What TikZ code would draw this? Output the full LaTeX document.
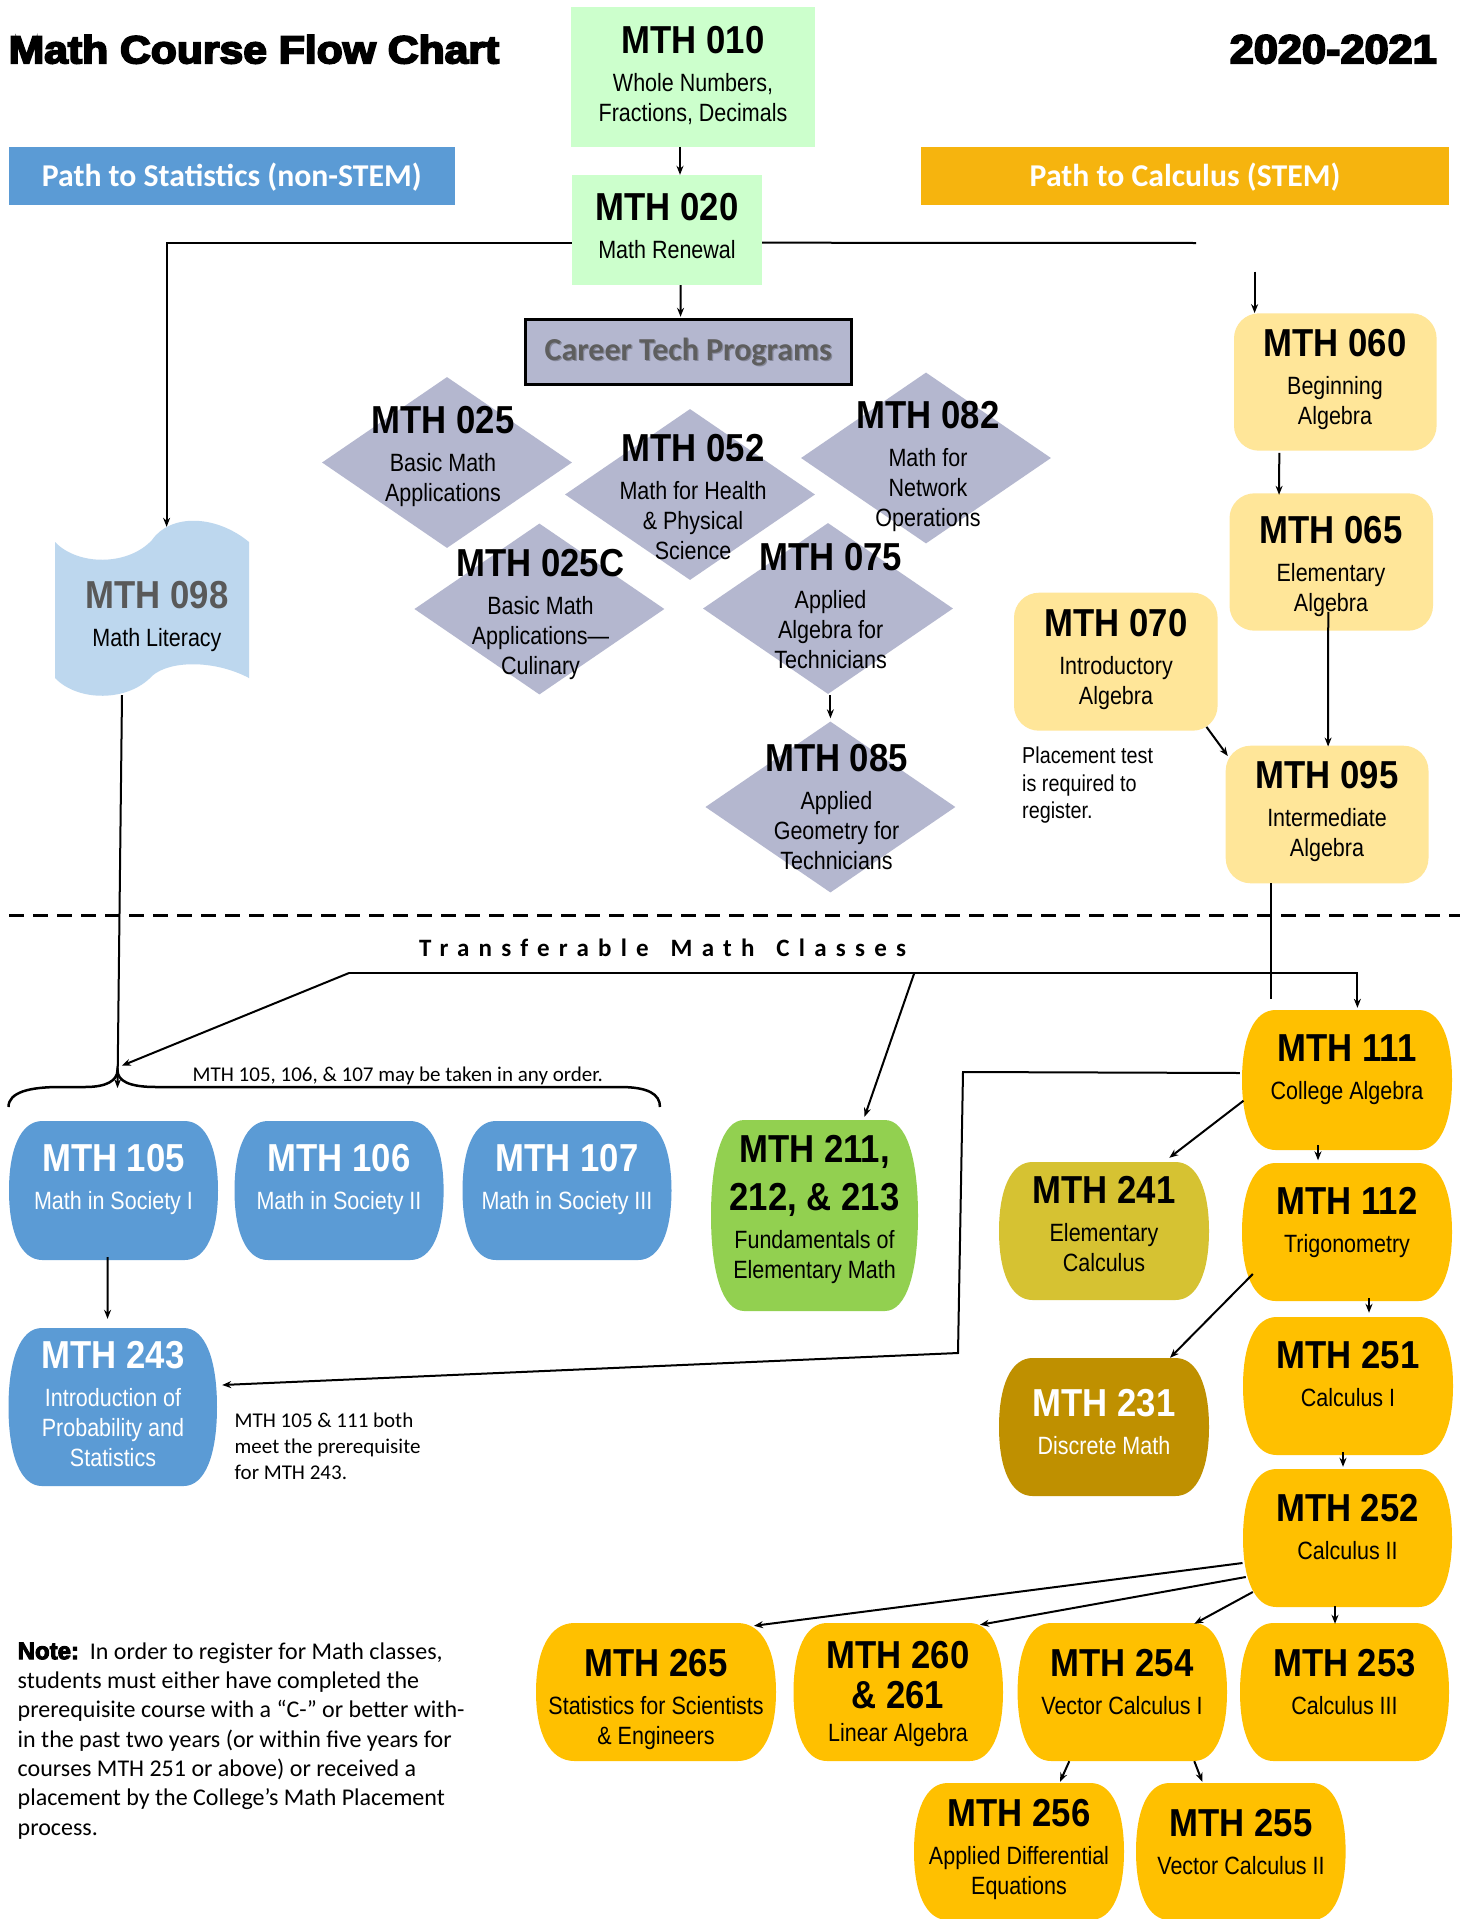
\documentclass[tikz,border=0pt]{standalone}
\usepackage{fontspec}
\usepackage{graphicx}
\usetikzlibrary{arrows.meta,calc,shapes.geometric}
\newfontface\tfont{Liberation Sans Bold}[FakeStretch=0.89]
\newfontface\sfnar{Liberation Sans}[FakeStretch=0.86]
\newfontface\heavy{Liberation Sans Bold}[FakeBold=4.5]
\newfontface\notebf{Liberation Sans Bold}[FakeBold=4]
\newfontfamily\calfam{Carlito}
\newfontfamily\calsp{Carlito}[LetterSpace=37]
\definecolor{lgreen}{HTML}{CCFFCC}
\definecolor{pblue}{HTML}{5B9BD5}
\definecolor{porange}{HTML}{F6B40E}
\definecolor{lyellow}{HTML}{FFE699}
\definecolor{diacol}{HTML}{B4B7CF}
\definecolor{lblue}{HTML}{BDD7EE}
\definecolor{gold}{HTML}{FFC000}
\definecolor{olive}{HTML}{D6C232}
\definecolor{dgold}{HTML}{BF9000}
\definecolor{fgreen}{HTML}{92D050}
\definecolor{tgray}{HTML}{595959}
\definecolor{ctgray}{HTML}{5E5E5E}
\newcommand\tsz{\tfont\fontsize{39}{30}\selectfont}
\newcommand\ctext[6][black]{\node[ctxt,text=#1] (#2) at (#3,#4) {\rule{0pt}{28pt}{\tsz #5}\\[8pt]#6};}
\newcommand\barrel[6]{%
  \pgfmathsetmacro\bA{0.16*(#4-#2)}%
  \pgfmathsetmacro\bH{#5-#3}%
  \pgfmathsetmacro\bW{#4-#2}%
  \fill[#6] ({#2+\bA},#3) -- ({#4-\bA},#3)
    .. controls ({#4-0.35*\bA},#3) and (#4,{#3+0.2*\bH}) .. (#4,{(#3+#5)/2})
    .. controls (#4,{#5-0.2*\bH}) and ({#4-0.35*\bA},#5) .. ({#4-\bA},#5)
    -- ({#2+\bA},#5)
    .. controls ({#2+0.35*\bA},#5) and (#2,{#5-0.2*\bH}) .. (#2,{(#3+#5)/2})
    .. controls (#2,{#3+0.2*\bH}) and ({#2+0.35*\bA},#3) .. cycle;
  \node[inner sep=0pt, minimum width=\bW pt, minimum height=\bH pt] (#1) at ({(#2+#4)/2},{(#3+#5)/2}) {};}
\begin{document}
\begin{tikzpicture}[x=1pt,y=-1pt,
  rect/.style={rectangle, inner sep=0pt},
  rbox/.style={rectangle, rounded corners=25pt, fill=lyellow, inner sep=0pt},
  dia/.style={diamond, fill=diacol, minimum width=250pt, minimum height=171pt, inner sep=0pt},
  ctxt/.style={anchor=north, inner sep=0pt, align=center, font=\sfnar\fontsize{25}{30}\selectfont},
  pathtxt/.style={anchor=base, inner sep=0pt, text=white, font=\calfam\bfseries\fontsize{31.75}{36}\selectfont},
  arr/.style={-{Stealth[length=9pt,width=7pt]}, line width=2pt},
  ln/.style={line width=2pt}]
\lineskiplimit=-100pt
\fill[white] (0,0) rectangle (1463,1919);
\useasboundingbox (0,0) rectangle (1463,1919);

% header
\node[anchor=base west,inner sep=0pt] (title) at (8.5,63.3) {\resizebox{490.5pt}{28.3pt}{\heavy Math Course Flow Chart}};
\node[anchor=base east,inner sep=0pt] (year) at (1437,63.3) {\resizebox{207pt}{28.3pt}{\heavy 2020-2021}};
\node[rect, fill=pblue, minimum width=445.5pt, minimum height=57.7pt] (pstat) at (231.75,175.85) {};
\node[pathtxt] (pstatt) at (231.75,186) {Path to Statistics (non-STEM)};
\node[rect, fill=porange, minimum width=528pt, minimum height=57.7pt] (pcalc) at (1185,175.85) {};
\node[pathtxt] (pcalct) at (1185,186) {Path to Calculus (STEM)};

% top boxes
\node[rect, fill=lgreen, minimum width=244pt, minimum height=140pt] (m010) at (693,77) {};
\node[rect, fill=lgreen, minimum width=190pt, minimum height=110pt] (m020) at (667,230) {};
\node[rect, fill=diacol, draw=black, line width=3pt, minimum width=325.7pt, minimum height=64.4pt] (ct) at (688.35,352) {};
\node[anchor=base, inner sep=0pt, text=black, opacity=0.25, font=\calfam\bfseries\fontsize{32}{36}\selectfont] (ctsh) at (689.6,361.3) {Career Tech Programs};
\node[anchor=base, inner sep=0pt, text=ctgray, font=\calfam\bfseries\fontsize{32}{36}\selectfont] (ctt) at (688.35,360) {Career Tech Programs};

\node[rbox, minimum width=202.6pt, minimum height=137.4pt] (m060) at (1335.3,382) {};
\node[rbox, minimum width=203.5pt, minimum height=137.4pt] (m065) at (1331.25,562) {};
\node[rbox, minimum width=203.6pt, minimum height=138pt] (m070) at (1115.8,661.7) {};
\node[rbox, minimum width=202.8pt, minimum height=137.6pt] (m095) at (1327.1,814.5) {};

% diamonds
\node[dia] (d025) at (447,462.5) {};
\node[dia] (d052) at (690,494.5) {};
\node[dia] (d082) at (926,458) {};
\node[dia] (d025c) at (539.4,609) {};
\node[dia] (d075) at (828,608.5) {};
\node[dia] (d085) at (830.4,807) {};

% MTH 098 banner
\fill[lblue] (55,542) .. controls (78,566) and (128,566) .. (152,540)
  .. controls (170,514) and (215,514) .. (249,542) -- (249,678)
  .. controls (215,660) and (170,660) .. (152,676)
  .. controls (128,702) and (78,702) .. (55,678) -- cycle;
\node[rect, minimum width=194pt, minimum height=173pt] (m098) at (152,609.5) {};

% lower barrels
\barrel{m105}{9}{1121}{218}{1260}{pblue}
\barrel{m106}{234.5}{1121}{443.6}{1260}{pblue}
\barrel{m107}{462.5}{1121}{671.5}{1260}{pblue}
\barrel{m243}{8.5}{1328}{217}{1486}{pblue}
\barrel{m211}{711}{1120}{918}{1311}{fgreen}
\barrel{m111}{1242}{1010}{1452}{1150}{gold}
\barrel{m241}{999}{1162}{1209}{1300}{olive}
\barrel{m112}{1242}{1163}{1452}{1301}{gold}
\barrel{m231}{999}{1358}{1209}{1496}{dgold}
\barrel{m251}{1243}{1317}{1453}{1455}{gold}
\barrel{m252}{1243}{1469}{1452}{1607}{gold}
\barrel{m265}{536}{1623}{776}{1761}{gold}
\barrel{m260}{793.5}{1623}{1003}{1761}{gold}
\barrel{m254}{1017.6}{1623}{1227}{1761}{gold}
\barrel{m253}{1240}{1623}{1449}{1761}{gold}
\barrel{m256}{914}{1783}{1124}{1920}{gold}
\barrel{m255}{1136}{1783}{1345.6}{1920}{gold}

% dashed separator
\coordinate (dashL) at (9.4,915);
\coordinate (dashR) at (1460,915);
\draw[line width=3pt, dash pattern=on 15pt off 9pt] (dashL) -- (dashR);
\node[anchor=base west, inner sep=0pt, font=\calsp\bfseries\fontsize{25}{30}\selectfont] (transf) at (419,956) {Transferable\hspace{7pt} Math\hspace{7pt} Classes};

% brace
\draw[line width=2.5pt] (8.5,1107) .. controls (8.5,1092) and (30,1087) .. (60,1087) -- (85,1087)
  .. controls (106,1087) and (117.5,1081) .. (117.5,1070)
  .. controls (117.5,1081) and (129,1087) .. (156,1087) -- (620,1087)
  .. controls (648,1087) and (660,1094) .. (660,1107);

% connectors
\draw[arr] ($(m010.south)+(-13,0)$) -- ($(m020.north)+(13,0)$);
\draw[arr] ($(m020.west)+(0,12.7)$) -| ($(m098.north)+(14.6,4)$);
\coordinate (gapend) at (1196,243);
\draw[ln] ($(m020.east)+(0,12.7)$) -- (gapend);
\coordinate (gapstart) at (1254.6,271.7);
\draw[arr] (gapstart) -- ($(m060.north)+(-80.7,0)$);
\draw[arr] ($(m020.south)+(13.5,0)$) -- ($(ct.north)+(-7.8,-1.5)$);
\draw[arr] ($(m060.south)+(-56,2)$) -- ($(m065.north)+(-52.2,1.7)$);
\draw[arr] ($(m065.south)+(-3,-19)$) -- ($(m095.north)+(1,1)$);
\draw[arr] ($(m070.south)+(90.7,-4)$) -- ($(m095.west)+(2.3,-58.5)$);
\draw[arr] ($(d075.south)+(2.4,1)$) -- ($(d085.north)+(0,-3)$);

\coordinate (bt) at (117.5,1088);
\draw[arr] ($(m098.south)+(-30,-1)$) -- (bt);
\coordinate (tj) at (349,973);
\coordinate (tk) at (914.3,973);
\coordinate (bd) at (121.8,1065.7);
\draw[arr] (tj) -- (bd);
\draw[arr] (tj) -| ($(m111.north)+(10.4,-2)$);
\draw[arr] (tk) -- ($(m211.north)+(50,-3)$);
\coordinate (v95) at (1271,999);
\draw[ln] ($(m095.south)+(-56.1,-0.5)$) -- (v95);

\coordinate (c1) at (963,1072);
\coordinate (c2) at (958,1353);
\draw[arr] ($(m111.west)+(-2,-7)$) -- (c1) -- (c2) -- ($(m243.east)+(5,-22)$);
\draw[arr] ($(m105.south)+(-6,-3)$) -- ($(m243.north)+(-5.2,-9)$);

\draw[arr] ($(m111.west)+(1.7,20.7)$) -- ($(m241.north)+(65.3,-4)$);
\draw[arr] ($(m111.south)+(-29,-5)$) -- ($(m112.north)+(-29,-2.5)$);
\draw[arr] ($(m112.west)+(11,42)$) -- ($(m231.north)+(66,0)$);
\draw[arr] ($(m112.south)+(22,-3)$) -- ($(m251.north)+(21,-4)$);
\draw[arr] ($(m251.south)+(-5,-3)$) -- ($(m252.north)+(-4.5,-2)$);
\draw[arr] ($(m252.west)+(-0.3,25)$) -- ($(m265.north)+(98,3)$);
\draw[arr] ($(m252.west)+(3,39)$) -- ($(m260.north)+(81.7,2)$);
\draw[arr] ($(m252.west)+(10,54)$) -- ($(m254.north)+(72,1)$);
\draw[arr] ($(m252.south)+(-12.5,-1)$) -- ($(m253.north)+(-9.5,1)$);
\draw[arr] ($(m254.south)+(-53,0)$) -- ($(m256.north)+(41,-1)$);
\draw[arr] ($(m254.south)+(72,0)$) -- ($(m255.north)+(-38.5,-1)$);

% texts top
\ctext{t010}{693}{25}{MTH 010}{Whole Numbers,\\Fractions, Decimals}
\ctext{t020}{667}{192}{MTH 020}{Math Renewal}
\ctext{t060}{1335}{328}{MTH 060}{Beginning\\Algebra}
\ctext{t065}{1331}{515}{MTH 065}{Elementary\\Algebra}
\ctext{t070}{1116}{608}{MTH 070}{Introductory\\Algebra}
\ctext{t095}{1327}{760}{MTH 095}{Intermediate\\Algebra}
\node[ctxt] (t098) at (157,580) {\rule{0pt}{28pt}{\tsz\color{tgray}MTH 098}\\[8pt]Math Literacy};
\ctext{t025}{443}{405}{MTH 025}{Basic Math\\Applications}
\ctext{t052}{693}{433}{MTH 052}{Math for Health\\\& Physical\\Science}
\ctext{t082}{928}{400}{MTH 082}{Math for\\Network\\Operations}
\ctext{t025c}{540.5}{548}{MTH 025C}{Basic Math\\Applications—\\Culinary}
\ctext{t075}{830.6}{542}{MTH 075}{Applied\\Algebra for\\Technicians}
\ctext{t085}{836.5}{743}{MTH 085}{Applied\\Geometry for\\Technicians}
\node[anchor=north west, inner sep=0pt, align=left, font=\sfnar\fontsize{23}{27.5}\selectfont] (place) at (1022,746.3) {\rule{0pt}{17pt}Placement test\\is required to\\register.};

% texts lower
\node[anchor=base west, inner sep=0pt, font=\calfam\fontsize{21}{25}\selectfont] (anyorder) at (192.5,1081) {MTH 105, 106, \& 107 may be taken in any order.};
\ctext[white]{t105}{113.5}{1143.6}{MTH 105}{Math in Society I}
\ctext[white]{t106}{339}{1143.6}{MTH 106}{Math in Society II}
\ctext[white]{t107}{567}{1143.6}{MTH 107}{Math in Society III}
\ctext[white]{t243}{113}{1340}{MTH 243}{Introduction of\\Probability and\\Statistics}
\node[anchor=north west, inner sep=0pt, align=left, font=\calfam\fontsize{21}{25.7}\selectfont] (both) at (234.5,1412.5) {\rule{0pt}{15pt}MTH 105 \& 111 both\\meet the prerequisite\\for MTH 243.};
\node[ctxt] (t211) at (814.5,1134.6) {\rule{0pt}{28pt}{\tsz MTH 211,}\\[18pt]{\tsz 212, \& 213}\\[8pt]Fundamentals of\\Elementary Math};
\ctext{t111}{1347}{1033.6}{MTH 111}{College Algebra}
\ctext{t241}{1104}{1175.7}{MTH 241}{Elementary\\Calculus}
\ctext{t112}{1347}{1186}{MTH 112}{Trigonometry}
\ctext[white]{t231}{1104}{1388}{MTH 231}{Discrete Math}
\ctext{t251}{1348}{1340}{MTH 251}{Calculus I}
\ctext{t252}{1347.5}{1493.7}{MTH 252}{Calculus II}
\ctext{t265}{656}{1648}{MTH 265}{Statistics for Scientists\\\& Engineers}
\node[ctxt] (t260) at (898,1640) {\rule{0pt}{28pt}{\tsz MTH 260}\\[10pt]{\tsz \& 261}\\[3pt]Linear Algebra};
\ctext{t254}{1122}{1648}{MTH 254}{Vector Calculus I}
\ctext{t253}{1344.5}{1648}{MTH 253}{Calculus III}
\ctext{t256}{1019}{1798}{MTH 256}{Applied Differential\\Equations}
\ctext{t255}{1241}{1808}{MTH 255}{Vector Calculus II}

% note
\node[anchor=north west, inner sep=0pt, align=left, font=\calfam\fontsize{24}{29.3}\selectfont] (note) at (17.5,1641) {\rule{0pt}{18pt}{\notebf\fontsize{24}{29.3}\selectfont Note:}\ \ In order to register for Math classes,\\students must either have completed the\\prerequisite course with a “C-” or better with-\\in the past two years (or within five years for\\courses MTH 251 or above) or received a\\placement by the College’s Math Placement\\process.};
\end{tikzpicture}
\end{document}
